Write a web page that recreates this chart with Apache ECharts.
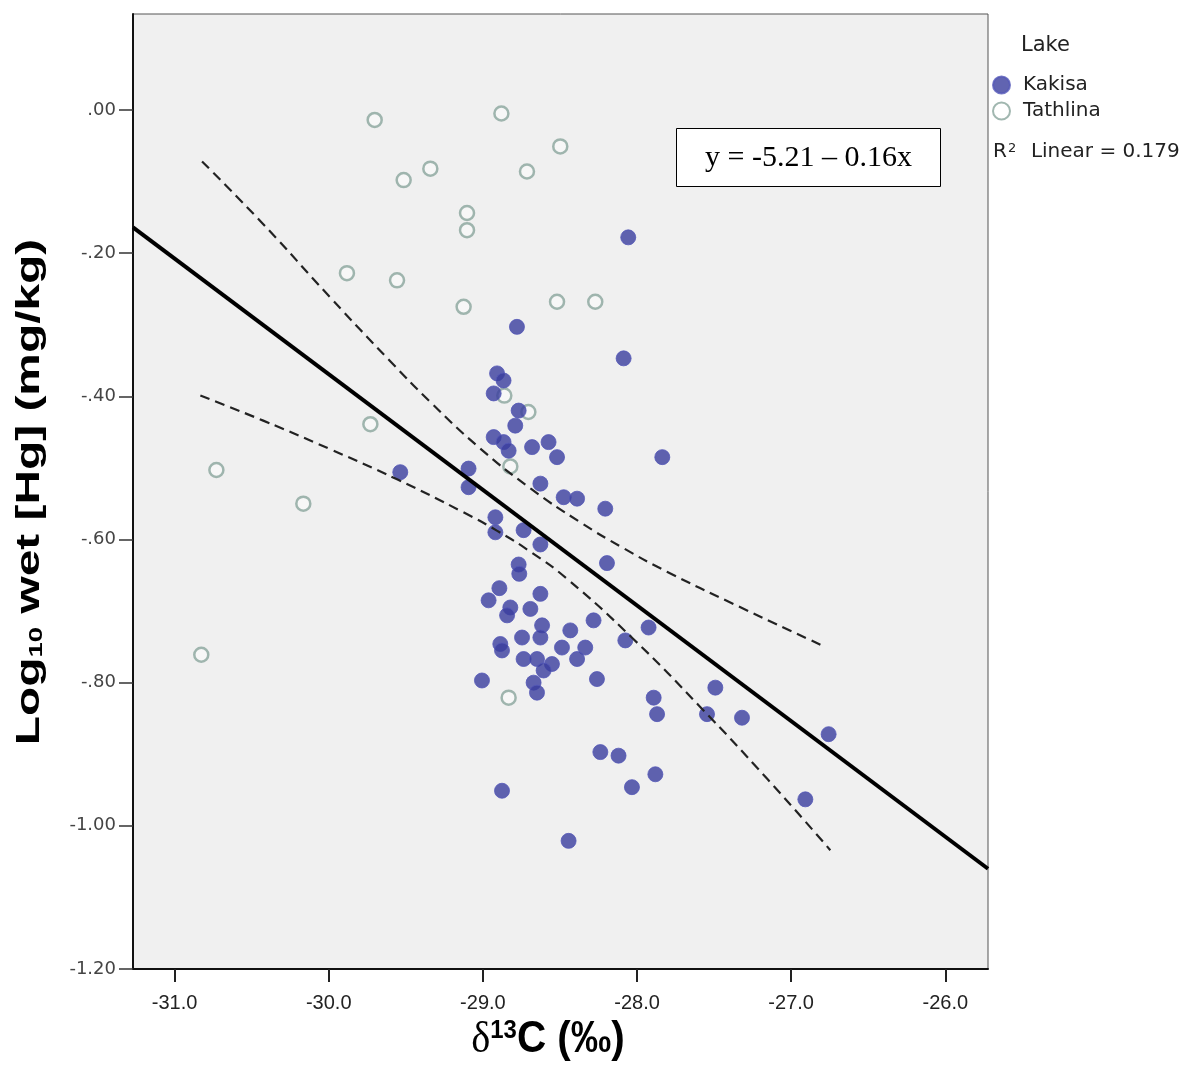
<!DOCTYPE html>
<html>
<head>
<meta charset="utf-8">
<script src="https://cdn.jsdelivr.net/npm/echarts@6/dist/echarts.min.js"></script>
<style>html,body{margin:0;padding:0;background:#fff;}#c{width:1204px;height:1073px;}</style>
</head>
<body>
<div id="c"></div>
<script>
// ---- data ----
const kakisaX = [-28.057,-28.779,-28.087,-28.908,-28.866,-28.930,-28.768,-28.790,-28.930,-28.866,-28.833,-28.681,-28.574,-28.519,-27.836,-29.093,-29.536,-29.093,-28.627,-28.476,-28.389,-28.206,-28.919,-28.919,-28.736,-28.627,-28.195,-28.768,-28.764,-28.893,-28.963,-28.822,-28.843,-28.627,-28.692,-28.282,-27.925,-28.616,-28.433,-28.746,-28.627,-28.887,-28.876,-28.076,-28.487,-28.336,-28.736,-28.649,-28.552,-28.389,-28.606,-29.006,-28.260,-28.671,-28.649,-27.492,-27.892,-27.870,-27.546,-27.319,-26.757,-28.238,-28.120,-27.881,-28.033,-26.908,-28.876,-28.444];
const kakisaY = [-0.178,-0.303,-0.347,-0.368,-0.378,-0.396,-0.420,-0.441,-0.457,-0.464,-0.476,-0.471,-0.464,-0.485,-0.485,-0.501,-0.506,-0.527,-0.522,-0.541,-0.543,-0.557,-0.569,-0.590,-0.587,-0.607,-0.633,-0.635,-0.648,-0.668,-0.685,-0.695,-0.706,-0.676,-0.697,-0.713,-0.723,-0.720,-0.727,-0.737,-0.737,-0.746,-0.755,-0.741,-0.751,-0.751,-0.767,-0.767,-0.774,-0.767,-0.783,-0.797,-0.795,-0.800,-0.814,-0.807,-0.821,-0.844,-0.844,-0.849,-0.872,-0.897,-0.902,-0.928,-0.946,-0.963,-0.951,-1.021];
const tathlinaX = [-29.702,-28.880,-28.498,-29.514,-29.341,-28.714,-29.103,-29.103,-29.882,-29.557,-29.125,-28.519,-28.271,-29.730,-30.729,-30.165,-30.827,-28.833,-28.861,-28.705,-28.822];
const tathlinaY = [-0.014,-0.005,-0.051,-0.098,-0.082,-0.086,-0.144,-0.168,-0.228,-0.238,-0.275,-0.268,-0.268,-0.439,-0.503,-0.550,-0.761,-0.821,-0.399,-0.422,-0.498];
const fitX = [-31.27, -25.723];
const fitY = [-0.164, -1.060];
const upperCIx = [-30.822,-30.423,-29.990,-29.601,-29.341,-29.017,-28.689,-28.368,-28.089,-27.806,-27.375,-26.800];
const upperCIy = [-0.072,-0.160,-0.262,-0.351,-0.408,-0.473,-0.529,-0.576,-0.612,-0.645,-0.690,-0.748];
const lowerCIx = [-30.833,-30.425,-29.990,-29.557,-29.127,-28.907,-28.693,-28.454,-28.024,-27.590,-27.157,-26.746];
const lowerCIy = [-0.399,-0.434,-0.474,-0.516,-0.562,-0.588,-0.617,-0.655,-0.739,-0.834,-0.934,-1.034];
const xTickValues = [-31, -30, -29, -28, -27, -26];
const xTickLabels = ['-31.0', '-30.0', '-29.0', '-28.0', '-27.0', '-26.0'];
const yTickValues = [0, -0.2, -0.4, -0.6, -0.8, -1.0, -1.2];
const yTickLabels = ['.00', '-.20', '-.40', '-.60', '-.80', '-1.00', '-1.20'];
const seriesNames = ['Kakisa', 'Tathlina'];
const legendTitle = 'Lake';
const equationText = 'y = -5.21 \u2013 0.16x';
const r2Text = '0.179';

const zip = (a, b) => a.map((v, i) => [v, b[i]]);
const labelFor = (vals, labels) => v => {
  const i = vals.findIndex(t => Math.abs(t - v) < 1e-6);
  return i >= 0 ? labels[i] : '';
};

const chart = echarts.init(document.getElementById('c'), null, {renderer: 'canvas'});
const option = {
  animation: false,
  backgroundColor: '#ffffff',
  grid: {left: 133, right: 216, top: 14, bottom: 104, show: true,
         backgroundColor: '#f0f0f0', borderColor: '#555', borderWidth: 1},
  xAxis: {
    type: 'value', min: -31.27, max: -25.723,
    splitLine: {show: false},
    axisLine: {onZero: false, lineStyle: {color: '#111', width: 2}},
    axisTick: {length: 13, customValues: xTickValues, lineStyle: {color: '#222', width: 2}},
    axisLabel: {
      margin: 24, fontSize: 20, color: '#222', customValues: xTickValues,
      fontFamily: '"Liberation Sans Narrow","Liberation Sans",Arial,sans-serif',
      formatter: labelFor(xTickValues, xTickLabels)
    }
  },
  yAxis: {
    type: 'value', min: -1.2, max: 0.134,
    splitLine: {show: false},
    axisLine: {onZero: false, lineStyle: {color: '#111', width: 2}},
    axisTick: {length: 14, customValues: yTickValues, lineStyle: {color: '#333', width: 1.5}},
    axisLabel: {
      margin: 17, fontSize: 18, color: '#444', customValues: yTickValues,
      fontFamily: '"DejaVu Sans",Verdana,sans-serif',
      formatter: labelFor(yTickValues, yTickLabels)
    }
  },
  legend: {
    data: seriesNames, orient: 'vertical', left: 987, top: 70, itemGap: 6,
    itemWidth: 17, itemHeight: 17, icon: 'circle',
    textStyle: {fontSize: 20, color: '#222', fontFamily: '"DejaVu Sans",Verdana,sans-serif', padding: [0, 0, 0, 8]}
  },
  graphic: [
    {type: 'text', left: 1021, top: 35, style: {text: legendTitle, fontSize: 21, fill: '#222', fontFamily: '"DejaVu Sans",Verdana,sans-serif'}},
    {type: 'text', left: 993, top: 142, style: {
      text: '{r|R}{s|2}{r|  Linear = ' + r2Text + '}',
      rich: {
        r: {fontSize: 20, fill: '#222', fontFamily: '"DejaVu Sans",Verdana,sans-serif', verticalAlign: 'bottom'},
        s: {fontSize: 13, fill: '#222', fontFamily: '"DejaVu Sans",Verdana,sans-serif', verticalAlign: 'top', padding: [0, 2, 0, 1]}
      }}},
    {type: 'group', left: 676, top: 128, z: 100, children: [
      {type: 'rect', shape: {x: 0, y: 0, width: 264, height: 58}, style: {fill: '#fff', stroke: '#000', lineWidth: 1}},
      {type: 'text', x: 132, y: 30, style: {text: equationText, fontSize: 30, fill: '#000',
        fontFamily: '"Liberation Serif","Times New Roman",serif', align: 'center', verticalAlign: 'middle'}}
    ]},
    // y axis title (rotated, stretched along reading direction)
    {type: 'text', x: 30, y: 492, rotation: Math.PI / 2, scaleX: 1.45, scaleY: 1, z: 50,
     style: {
      text: '{a|Log}{b|10}{a| wet [Hg] (mg/kg)}', align: 'center', verticalAlign: 'middle',
      rich: {
        a: {fontFamily: '"Liberation Sans",Arial,sans-serif', fontWeight: 'bold', fontSize: 33, fill: '#000', verticalAlign: 'bottom'},
        b: {fontFamily: '"Liberation Sans",Arial,sans-serif', fontWeight: 'bold', fontSize: 19, fill: '#000', verticalAlign: 'bottom'}
      }}},
    // x axis title
    {type: 'text', x: 548, y: 1040, scaleX: 0.92, scaleY: 1, z: 50,
     style: {
      text: '{d|\u03b4}{s|13}{c|C (\u2030)}', align: 'center', verticalAlign: 'middle',
      rich: {
        d: {fontFamily: '"Liberation Serif","Times New Roman",serif', fontSize: 44, fill: '#000', verticalAlign: 'bottom'},
        s: {fontFamily: '"Liberation Sans",Arial,sans-serif', fontWeight: 'bold', fontSize: 26, fill: '#000', verticalAlign: 'top'},
        c: {fontFamily: '"Liberation Sans",Arial,sans-serif', fontWeight: 'bold', fontSize: 44, fill: '#000', verticalAlign: 'bottom'}
      }}}
  ],
  series: [
    {name: 'Tathlina', type: 'scatter', data: zip(tathlinaX, tathlinaY), symbol: 'circle', symbolSize: 14, z: 2,
     itemStyle: {color: 'rgba(255,255,255,0.55)', borderColor: '#8aa59c', borderWidth: 2.5}},
    {name: 'Kakisa', type: 'scatter', data: zip(kakisaX, kakisaY), symbol: 'circle', symbolSize: 15, z: 3,
     itemStyle: {color: '#3a3d9e', borderColor: '#5458b8', borderWidth: 1}},
    {name: 'fit', type: 'line', data: zip(fitX, fitY), symbol: 'none', z: 5,
     lineStyle: {color: '#000', width: 4}},
    {name: 'upper', type: 'line', data: zip(upperCIx, upperCIy), symbol: 'none', smooth: 0.5, z: 5,
     lineStyle: {color: '#222', width: 2.2, type: [10, 6]}},
    {name: 'lower', type: 'line', data: zip(lowerCIx, lowerCIy), symbol: 'none', smooth: 0.5, z: 5,
     lineStyle: {color: '#222', width: 2.2, type: [10, 6]}}
  ]
};
chart.setOption(option);
</script>
</body>
</html>
